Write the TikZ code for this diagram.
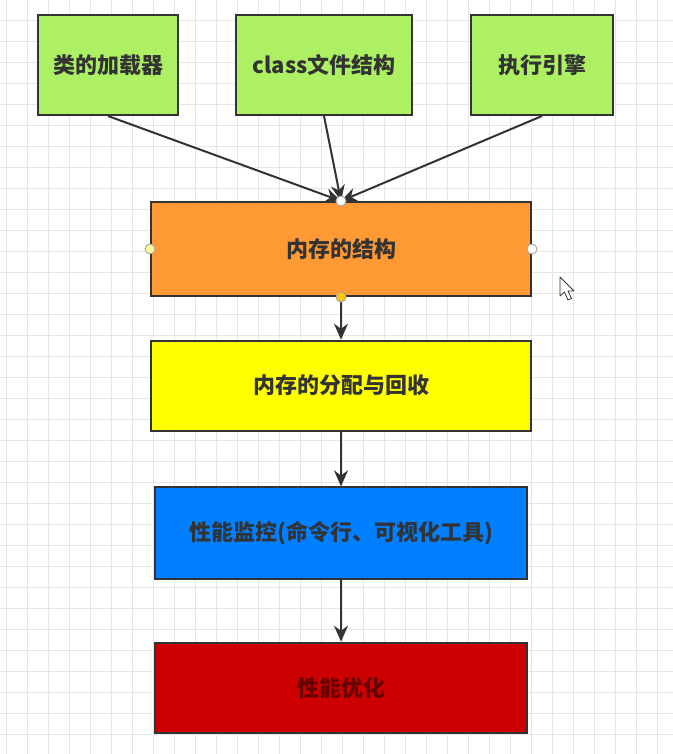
\documentclass[tikz,border=0pt]{standalone}
\usepackage{fontspec}
\newfontfamily\cjk{Noto Sans CJK SC}
\usepackage{tikz}
\usetikzlibrary{arrows.meta,positioning}

\definecolor{gridgray}{HTML}{E6E6E6}
\definecolor{edge}{HTML}{333333}
\definecolor{boxgreen}{HTML}{ADF063}
\definecolor{boxorange}{HTML}{FF9933}
\definecolor{boxyellow}{HTML}{FFFF00}
\definecolor{boxblue}{HTML}{007FFF}
\definecolor{boxred}{HTML}{CC0000}

\begin{document}
\begin{tikzpicture}[
  x=0.75pt, y=-0.75pt,
  font=\cjk\bfseries\fontsize{16.5}{19}\selectfont,
  gridline/.style={draw=gridgray, line width=0.6pt},
  topbox/.style={draw=edge, line width=1.5pt, fill=boxgreen, text=edge, minimum height=75pt, align=center},
  mainbox/.style={draw=edge, line width=1.5pt, text=edge, align=center},
  handle/.style={circle, draw=gray!70, fill=white, line width=0.7pt, inner sep=0pt, minimum size=7.5pt},
  arr/.style={-{Stealth[length=12pt,width=10.5pt]}, draw=edge, line width=1.5pt}
]
% background grid
\useasboundingbox[fill=white] (0,0) rectangle (673,754);
\foreach \gx in {6,27,...,672} \draw[gridline] (\gx,0) -- (\gx,754);
\foreach \gy in {20,41,...,753} \draw[gridline] (0,\gy) -- (673,\gy);

% top row
\node[topbox, minimum width=132pt] (cls) at (324,65) {class文件结构};
\node[topbox, minimum width=105pt, left=42pt of cls] (loader) {类的加载器};
\node[topbox, minimum width=106pt, right=43pt of cls] (engine) {执行引擎};

% main column
\node[mainbox, fill=boxorange, minimum width=285pt, minimum height=70.5pt] (mem) at (341,249) {内存的结构};
\node[mainbox, fill=boxyellow, minimum width=285pt, minimum height=67.5pt, below=32pt of mem] (alloc) {内存的分配与回收};
\node[mainbox, fill=boxblue, minimum width=279pt, minimum height=69pt, below=41pt of alloc] (monitor) {性能监控(命令行、可视化工具)};
\node[mainbox, fill=boxred, minimum width=279pt, minimum height=67.5pt, below=46pt of monitor, text=black!50!boxred] (tune) {性能优化};

\draw[arr] (loader.south) -- (mem.north);
\draw[arr] (cls.south) -- (mem.north);
\draw[arr] (engine.south) -- (mem.north);
\draw[arr] (mem) -- (alloc);
\draw[arr] (alloc) -- (monitor);
\draw[arr] (monitor) -- (tune);

% selection handles
\node[handle] (hn) at (mem.north) {};
\node[handle, fill=yellow!60!orange] (hs) at (mem.south) {};
\node[handle, fill=yellow!40] (hw) at (mem.west) {};
\node[handle] (he) at (mem.east) {};

% mouse pointer
\draw[edge, fill=white, line width=0.6pt, line join=round]
  (560,277) -- (560,296) -- (564.5,292) -- (568,300) -- (571.5,298.5) -- (568,291) -- (574,291) -- cycle;
\end{tikzpicture}
\end{document}
